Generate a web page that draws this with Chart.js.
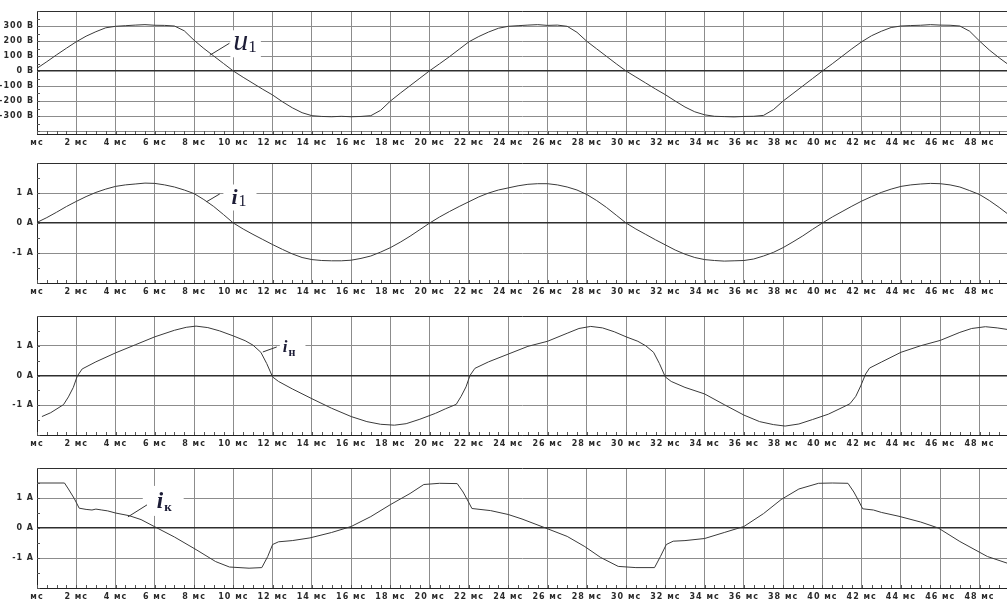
<!DOCTYPE html>
<html>
<head>
<meta charset="utf-8">
<script src="https://cdn.jsdelivr.net/npm/chart.js@4.4.1/dist/chart.umd.min.js"></script>
<style>
  html, body { margin: 0; padding: 0; background: #fff; }
  #wrap { position: relative; width: 1007px; height: 601px; overflow: hidden; }
  canvas { position: absolute; left: 0; }
</style>
</head>
<body>
<div id="wrap">
  <canvas id="pU1" width="1007" height="150" style="top:0px"></canvas>
  <canvas id="pI1" width="1007" height="150" style="top:150px"></canvas>
  <canvas id="pIH" width="1007" height="150" style="top:300px"></canvas>
  <canvas id="pIK" width="1007" height="151" style="top:450px"></canvas>
</div>
<script>
// =====================
// Data, time in ms
// =====================
const tGrid = [0,0.5,1,1.5,2,2.5,3,3.5,4,4.5,5,5.5,6,6.5,7,7.5,8,8.5,9,9.5,
  10,10.5,11,11.5,12,12.5,13,13.5,14,14.5,15,15.5,16,16.5,17,17.5,18,18.5,19,19.5,
  20,20.5,21,21.5,22,22.5,23,23.5,24,24.5,25,25.5,26,26.5,27,27.5,28,28.5,29,29.5,
  30,30.5,31,31.5,32,32.5,33,33.5,34,34.5,35,35.5,36,36.5,37,37.5,38,38.5,39,39.5,
  40,40.5,41,41.5,42,42.5,43,43.5,44,44.5,45,45.5,46,46.5,47,47.5,48,48.5,49,49.5];

// u1, V
const u1Volts = [18,62,108,152,195,232,262,288,298,302,
  306,309,305,304,300,268,205,150,100,50,
  0,-42,-82,-122,-160,-205,-245,-278,-298,-303,
  -305,-302,-305,-303,-298,-262,-200,-148,-98,-48,
  2,48,95,145,195,230,260,285,298,302,
  306,309,304,306,298,258,198,148,98,48,
  0,-40,-80,-120,-158,-200,-240,-272,-292,-302,
  -304,-306,-303,-302,-296,-258,-200,-150,-100,-50,
  0,48,98,148,195,235,265,290,300,303,
  305,309,306,305,300,265,200,140,88,40];

// i1, A
const i1Amps = [0.02,0.18,0.36,0.55,0.72,0.88,1.02,1.13,1.22,1.27,
  1.3,1.33,1.32,1.27,1.2,1.1,0.98,0.78,0.55,0.28,
  0,-0.2,-0.38,-0.55,-0.72,-0.88,-1.03,-1.15,-1.22,-1.25,
  -1.26,-1.26,-1.24,-1.18,-1.1,-0.97,-0.82,-0.64,-0.44,-0.22,
  0,0.2,0.38,0.55,0.71,0.87,1,1.1,1.17,1.24,
  1.29,1.31,1.31,1.27,1.2,1.1,0.95,0.75,0.52,0.26,
  0,-0.2,-0.38,-0.56,-0.73,-0.9,-1.04,-1.15,-1.22,-1.25,
  -1.27,-1.26,-1.25,-1.2,-1.1,-0.98,-0.82,-0.63,-0.43,-0.21,
  0,0.2,0.38,0.56,0.73,0.88,1.02,1.13,1.22,1.27,
  1.3,1.32,1.31,1.27,1.2,1.08,0.95,0.75,0.52,0.27];

// iн, A
const iHTime = [0.25,0.7,1.35,1.6,1.85,2.05,2.3,3,4,5,6,7,7.6,8.1,8.7,9.3,10,10.6,11,11.4,11.7,12,12.3,13,14,15,16,16.8,17.5,18.2,18.8,19.5,
  20.3,20.8,21.35,21.6,21.85,22.05,22.3,23,24,25,26,27,27.6,28.2,28.8,29.4,30,30.6,31,31.4,31.7,32,32.3,33,34,35,36,36.8,37.5,38.1,38.8,39.5,
  40.3,41,41.4,41.7,41.95,42.2,42.4,43,44,45,46,47,47.6,48.3,48.9,49.4];
const iHAmps = [-1.38,-1.25,-0.98,-0.72,-0.4,-0.02,0.22,0.46,0.76,1.03,1.3,1.52,1.62,1.66,1.61,1.5,1.33,1.17,1.02,0.78,0.4,-0.05,-0.2,-0.45,-0.78,-1.1,-1.38,-1.55,-1.64,-1.67,-1.62,-1.47,
  -1.27,-1.12,-0.97,-0.7,-0.38,0,0.24,0.46,0.72,0.98,1.15,1.42,1.58,1.65,1.6,1.47,1.3,1.15,1,0.78,0.4,-0.05,-0.2,-0.4,-0.62,-0.98,-1.33,-1.55,-1.65,-1.7,-1.63,-1.48,
  -1.3,-1.08,-0.95,-0.7,-0.35,0.05,0.25,0.45,0.78,1,1.18,1.45,1.58,1.64,1.6,1.55];

// iк, A
const iKTime = [0,1.4,1.6,1.9,2.15,2.5,2.8,3,3.3,3.6,4,4.7,5.3,6,7,8.1,9.1,9.8,10.8,11.45,11.75,12,12.3,13,13.9,15,16,17,18,19,19.7,
  20.5,21.4,21.7,21.95,22.15,23.1,24,24.7,25.9,27,27.9,28.7,29.6,30.5,31.45,31.75,32.05,32.4,33,34,35,36,37,37.9,38.8,39.8,
  40.5,41.3,41.6,41.85,42.05,42.6,43,43.9,45,45.9,47,48.4,49.4];
const iKAmps = [1.5,1.5,1.3,0.98,0.66,0.62,0.6,0.63,0.6,0.57,0.5,0.41,0.28,0.04,-0.3,-0.72,-1.12,-1.3,-1.34,-1.32,-0.95,-0.55,-0.46,-0.42,-0.33,-0.15,0.05,0.38,0.78,1.15,1.45,
  1.49,1.48,1.2,0.9,0.65,0.58,0.45,0.3,0,-0.28,-0.62,-0.98,-1.28,-1.32,-1.32,-0.95,-0.55,-0.44,-0.42,-0.35,-0.15,0.05,0.48,0.95,1.3,1.49,
  1.5,1.49,1.2,0.9,0.64,0.6,0.52,0.39,0.2,0,-0.45,-0.95,-1.17];

// axis labels
const uTickLabels = [300, 200, 100, 0, -100, -200, -300];
const iTickLabels = [1, 0, -1];
const timeMax = 49.4;

// =====================
// Helpers
// =====================
function pairs(ts, vs) {
  return ts.map((t, k) => ({ x: t, y: vs[k] }));
}

const labelFont = { family: "DejaVu Sans", size: 8, weight: "bold" };

// wider, blurrier look of the scanned labels
const spacing = {
  id: "spacing",
  beforeDraw(chart) { chart.ctx.letterSpacing = "1px"; },
  afterDraw(chart) { chart.ctx.letterSpacing = "0px"; },
};

// white backing box under the curve name
const tagBox = {
  id: "tagBox",
  beforeDatasetsDraw(chart, args, o) {
    if (!o || !o.main) return;
    const { ctx, scales: { x, y } } = chart;
    const px = x.getPixelForValue(o.at[0]);
    const py = y.getPixelForValue(o.at[1]);
    ctx.save();
    ctx.letterSpacing = "0px";
    ctx.font = o.mainFont;
    const w1 = ctx.measureText(o.main).width;
    ctx.font = o.subFont;
    const w2 = ctx.measureText(o.sub).width;
    ctx.fillStyle = "#fff";
    ctx.fillRect(px - o.padL, py - o.up, w1 + o.gap + w2 + o.padL + o.padR, o.up + o.down);
    ctx.restore();
  },
  afterDatasetsDraw(chart, args, o) {
    if (!o || !o.main) return;
    const { ctx, scales: { x, y } } = chart;
    const px = x.getPixelForValue(o.at[0]);
    const py = y.getPixelForValue(o.at[1]);
    ctx.save();
    ctx.letterSpacing = "0px";
    // leader line
    ctx.strokeStyle = "#333";
    ctx.lineWidth = 1;
    ctx.beginPath();
    ctx.moveTo(x.getPixelForValue(o.from[0]), y.getPixelForValue(o.from[1]));
    ctx.lineTo(x.getPixelForValue(o.to[0]), y.getPixelForValue(o.to[1]));
    ctx.stroke();
    ctx.fillStyle = "#1c1c36";
    ctx.textBaseline = "alphabetic";
    ctx.font = o.mainFont;
    const w1 = ctx.measureText(o.main).width;
    ctx.fillText(o.main, px, py);
    ctx.font = o.subFont;
    ctx.fillText(o.sub, px + w1 + o.gap, py + o.drop);
    ctx.restore();
  },
};

// small inward ticks on bottom and left axes
const minorTicks = {
  id: "minorTicks",
  afterDatasetsDraw(chart, args, o) {
    const { ctx, chartArea: a, scales: { x, y } } = chart;
    ctx.save();
    ctx.strokeStyle = "#555";
    ctx.lineWidth = 1;
    ctx.beginPath();
    for (let t = 0; t <= x.max; t += o.xStep) {
      const p = Math.round(x.getPixelForValue(t)) + 0.5;
      ctx.moveTo(p, a.bottom);
      ctx.lineTo(p, a.bottom - 3);
    }
    for (let v = o.yFrom; v <= y.max; v += o.yStep) {
      const p = Math.round(y.getPixelForValue(v)) + 0.5;
      ctx.moveTo(a.left, p);
      ctx.lineTo(a.left + 3, p);
    }
    ctx.stroke();
    ctx.restore();
  },
};

function makePanel(id, cfg) {
  const ctx = document.getElementById(id).getContext("2d");
  return new Chart(ctx, {
    type: "line",
    data: {
      datasets: [{
        data: cfg.points,
        borderColor: "#3a3a3a",
        borderWidth: 1,
        pointRadius: 0,
        tension: 0,
        fill: false,
      }],
    },
    options: {
      responsive: false,
      animation: false,
      devicePixelRatio: 1,
      parsing: false,
      layout: { padding: { top: cfg.top, left: 0, right: 0, bottom: 0 } },
      scales: {
        x: {
          type: "linear",
          min: 0,
          max: timeMax,
          afterFit(s) { s.height = cfg.axisH; },
          border: { color: "#222", width: 1 },
          grid: {
            drawTicks: false,
            color: (c) => (c.tick && c.tick.value === 0 ? "rgba(0,0,0,0)" : "#8c8c8c"),
          },
          ticks: {
            stepSize: 2,
            includeBounds: false,
            autoSkip: false,
            maxRotation: 0,
            padding: 4,
            color: "#2a2a2a",
            font: labelFont,
            callback: (v) => (v === 0 ? "мс" : v + " мс"),
          },
        },
        y: {
          type: "linear",
          min: cfg.yMin,
          max: cfg.yMax,
          afterFit(s) { s.width = 37; },
          border: { color: "#222", width: 1 },
          grid: {
            drawTicks: false,
            color: cfg.gridColor,
            lineWidth: (c) => (c.tick && c.tick.value === 0 ? 1.5 : 1),
          },
          ticks: {
            stepSize: cfg.yStep,
            includeBounds: false,
            padding: 3,
            color: "#2a2a2a",
            font: labelFont,
            callback: cfg.yLabel,
          },
        },
      },
      plugins: {
        legend: { display: false },
        tooltip: { enabled: false },
        tagBox: cfg.tag,
        minorTicks: { xStep: 0.5, yStep: cfg.yMinor, yFrom: cfg.yMinorFrom },
      },
    },
    plugins: [spacing, tagBox, minorTicks],
  });
}

// =====================
// Panels
// =====================
makePanel("pU1", {
  points: pairs(tGrid, u1Volts),
  top: 11, axisH: 16,
  yMin: -420, yMax: 400, yStep: 50, yMinor: 50, yMinorFrom: -400,
  yLabel: (v) => (uTickLabels.includes(v) ? v + " В" : ""),
  gridColor: (c) => {
    const v = c.tick ? c.tick.value : 1;
    if (v === 0 || v === 400) return "#2e2e2e";
    return v % 100 === 0 ? "#8c8c8c" : "#d2d2d2";
  },
  tag: {
    main: "u", sub: "1", at: [10.0, 138], from: [8.8, 105], to: [9.8, 185],
    mainFont: "italic 30px 'Times New Roman', 'Liberation Serif', serif", subFont: "17px 'Liberation Serif'",
    gap: 0, drop: 2, padL: 3, padR: 4, up: 20, down: 7,
  },
});

const iGrid = (c) => {
  const v = c.tick ? c.tick.value : 1;
  if (v === 0 || v === 2) return "#2e2e2e";
  return "#8c8c8c";
};
const iLabel = (v) => (iTickLabels.includes(v) ? v + " А" : "");

makePanel("pI1", {
  points: pairs(tGrid, i1Amps),
  top: 13, axisH: 17,
  yMin: -2, yMax: 2, yStep: 1, yMinor: 0.5, yMinorFrom: -2,
  yLabel: iLabel, gridColor: iGrid,
  tag: {
    main: "i", sub: "1", at: [9.9, 0.65], from: [8.64, 0.71], to: [9.31, 0.97],
    mainFont: "italic bold 22px 'Liberation Serif'", subFont: "16px 'Liberation Serif'",
    gap: 1, drop: 2, padL: 8, padR: 10, up: 19, down: 7,
  },
});

makePanel("pIH", {
  points: pairs(iHTime, iHAmps),
  top: 16, axisH: 15,
  yMin: -2, yMax: 2, yStep: 1, yMinor: 0.5, yMinorFrom: -2,
  yLabel: iLabel, gridColor: iGrid,
  tag: {
    main: "i", sub: "н", at: [12.52, 0.79], from: [11.5, 0.79], to: [12.21, 0.96],
    mainFont: "italic bold 17px 'Liberation Serif'", subFont: "bold 12px 'Liberation Serif'",
    gap: 1, drop: 4, padL: 3, padR: 10, up: 18, down: 10,
  },
});

makePanel("pIK", {
  points: pairs(iKTime, iKAmps),
  top: 18, axisH: 13,
  yMin: -2, yMax: 2, yStep: 1, yMinor: 0.5, yMinorFrom: -2,
  yLabel: iLabel, gridColor: iGrid,
  tag: {
    main: "i", sub: "к", at: [6.1, 0.67], from: [4.63, 0.37], to: [5.6, 0.77],
    mainFont: "italic bold 23px 'Liberation Serif'", subFont: "bold 13px 'Liberation Serif'",
    gap: 1, drop: 3, padL: 14, padR: 12, up: 22, down: 8,
  },
});
</script>
</body>
</html>
